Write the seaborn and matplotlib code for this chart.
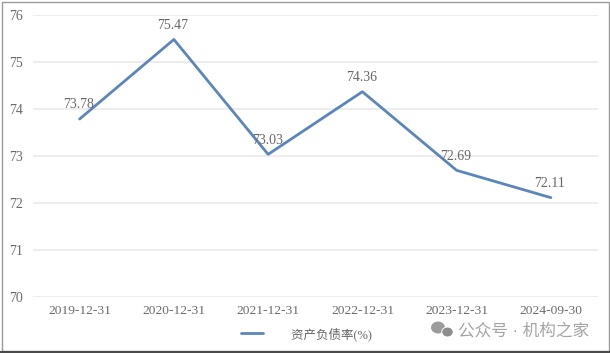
import pandas as pd
import matplotlib.pyplot as plt
import seaborn as sns
from matplotlib.patches import Ellipse, Rectangle

dates = ['2019-12-31', '2020-12-31', '2021-12-31', '2022-12-31', '2023-12-31', '2024-09-30']
ratio = [73.78, 75.47, 73.03, 74.36, 72.69, 72.11]
ratio_labels = ['73.78', '75.47', '73.03', '74.36', '72.69', '72.11']
y_ticks = [70, 71, 72, 73, 74, 75, 76]
series_name = '资产负债率(%)'
watermark = '公众号 · 机构之家'

sns.set_theme(style='white')
plt.rcParams['font.family'] = ['Liberation Serif', 'Noto Sans CJK SC', 'DejaVu Sans']

df = pd.DataFrame({'date': dates, 'ratio': ratio})
W, H = 610, 353

fig = plt.figure(figsize=(W / 100, H / 100), dpi=100, facecolor='white')
ax = fig.add_axes([32.5 / W, 1 - 297 / H, (598 - 32.5) / W, (297 - 14.5) / H])

sns.lineplot(data=df, x='date', y='ratio', sort=False, color='#5b86bb', linewidth=2.0,
             label='        ' + series_name, ax=ax, zorder=3)

ax.set_xlim(-0.5, 5.5)
ax.set_ylim(70, 76)
ax.set_yticks(y_ticks)
ax.set_xlabel('')
ax.set_ylabel('')
ax.grid(axis='y', color='#ececec', linewidth=1.3)
ax.grid(axis='x', visible=False)
ax.set_axisbelow(True)
sns.despine(ax=ax, left=True, bottom=True)
ax.tick_params(axis='both', length=0, labelsize=9.7, labelcolor='#6a6a6a')
ax.tick_params(axis='x', pad=6)
ax.tick_params(axis='y', pad=7)
for t in ax.get_yticklabels():
    t.set_fontsize(10)

for i, lab in enumerate(ratio_labels):
    ax.annotate(lab, (i, ratio[i]), xytext=(-0.7, 5.5), textcoords='offset points',
                ha='center', va='bottom', fontsize=10, color='#666666', zorder=4)

ax.legend(loc='center left', bbox_to_anchor=(241 / W, 1 - 334 / H), bbox_transform=fig.transFigure,
          frameon=False, fontsize=9, labelcolor='#666666', handlelength=1.76,
          borderpad=0, borderaxespad=0, handletextpad=0.2)

# 截图边框
fig.add_artist(Rectangle((2 / W, 2 / H), 607 / W, 349 / H, transform=fig.transFigure,
                         fill=False, edgecolor='#9a9a9a', linewidth=1))
fig.add_artist(plt.Line2D([0, 1], [1.5 / H, 1.5 / H], color='#4a4a4a', linewidth=1.5))

# 水印
fig.text(458 / W, 1 - 330 / H, watermark, fontsize=12, color='#a4a4a4', ha='left', va='center',
         family=['Liberation Sans', 'Noto Sans CJK SC', 'DejaVu Sans'])
fig.add_artist(Ellipse((438 / W, 1 - 327.5 / H), 14 / W, 12 / H, transform=fig.transFigure,
                       facecolor='#9c9c9c', edgecolor='none'))
fig.add_artist(Ellipse((447.5 / W, 1 - 332 / H), 11.5 / W, 10 / H, transform=fig.transFigure,
                       facecolor='#8e8e8e', edgecolor='white', linewidth=0.7))

fig.savefig('out.png', dpi=100)
